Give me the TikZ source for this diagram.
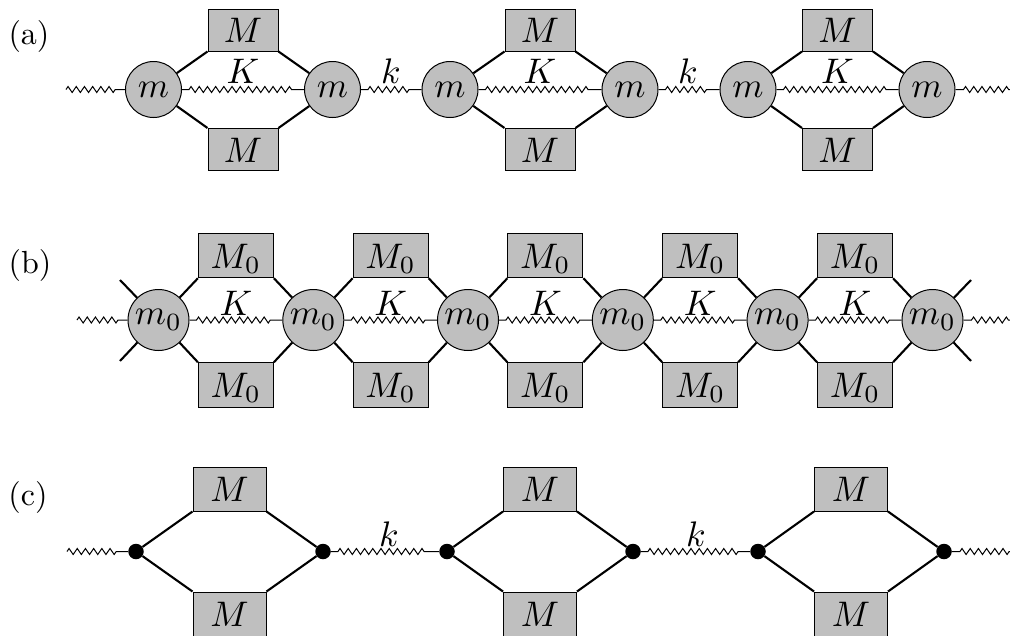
\documentclass[tikz,border=0pt]{standalone}
\usepackage{graphicx}
\usetikzlibrary{decorations.pathmorphing}
\newcommand{\tx}[1]{\scalebox{3.2}{#1}}
\newcommand{\mth}[1]{\scalebox{3.55}{$#1$}}
\tikzset{
  x=1pt,y=-1pt,
  txt/.style={inner sep=0pt},
  mass/.style={txt,circle,draw=black,fill=black!25,line width=1pt,minimum size=#1},
  blk/.style={txt,rectangle,draw=black,fill=black!25,line width=1pt,text height=25pt,text depth=0pt},
  ablk/.style={blk,minimum width=70pt,minimum height=42pt},
  bblk/.style={blk,minimum width=75pt,minimum height=44.5pt},
  cblk/.style={blk,minimum width=73pt,minimum height=44pt},
  joint/.style={circle,fill=black,inner sep=0pt,minimum size=15.5pt},
  rod/.style={line width=2.1pt},
  springline/.style={line width=1pt,decorate,decoration={zigzag,amplitude=3pt,segment length=8.2pt,#1}},
  spring/.style={springline={pre length=7pt,post length=11pt}},
  springin/.style={springline={post length=8pt}},
  springout/.style={springline={pre length=8pt}},
}
\begin{document}
\begin{tikzpicture}
\useasboundingbox (0,0) rectangle (1010,635);
\node[txt] (la) at (29,36) {\tx{(a)}};
\node[txt] (lb) at (30,265) {\tx{(b)}};
\node[txt] (lc) at (28,497) {\tx{(c)}};
% row a
\foreach \i/\xl/\xr in {1/153.5/332.5,2/450/630,3/748/927}{
  \node[mass=56pt] (aL\i) at (\xl,89.5) {\mth{m}};
  \node[mass=56pt] (aR\i) at (\xr,89.5) {\mth{m}};
  \pgfmathsetmacro\xc{(\xl+\xr)/2}
  \node[ablk] (aT\i) at (\xc,30) {\mth{M}};
  \node[ablk] (aB\i) at (\xc,149.5) {\mth{M}};
  \node[txt,anchor=base] (aK\i) at (\xc,83) {\mth{K}};
  \draw[rod] (aL\i) -- (aT\i.south west);
  \draw[rod] (aR\i) -- (aT\i.south east);
  \draw[rod] (aL\i) -- (aB\i.north west);
  \draw[rod] (aR\i) -- (aB\i.north east);
  \draw[spring] (aL\i) -- (aR\i);
}
\coordinate (a0) at (66,89.5);
\coordinate (a4) at (1012,89.5);
\draw[spring] (aR1) -- (aL2);
\draw[spring] (aR2) -- (aL3);
\draw[springin] (a0) -- (aL1);
\draw[springout] (aR3) -- (a4);
\node[txt,anchor=base] (ak1) at (391,83) {\mth{k}};
\node[txt,anchor=base] (ak2) at (688,83) {\mth{k}};
% row b
\foreach \i/\x in {1/158.5,2/313.3,3/468,4/622.8,5/777.6,6/932.5}{
  \node[mass=61pt] (bN\i) at (\x,320) {\mth{m_0}};
}
\foreach \i/\j in {1/2,2/3,3/4,4/5,5/6}{
  \path (bN\i) -- (bN\j) coordinate[midway] (bC\i);
  \node[bblk] (bT\i) at ([yshift=64.5pt]bC\i) {\mth{M_0}};
  \node[bblk] (bB\i) at ([yshift=-65pt]bC\i) {\mth{M_0}};
  \node[txt,anchor=base] (bK\i) at ([yshift=5pt]bC\i) {\mth{K}};
  \draw[rod] (bN\i) -- (bT\i.south west);
  \draw[rod] (bN\j) -- (bT\i.south east);
  \draw[rod] (bN\i) -- (bB\i.north west);
  \draw[rod] (bN\j) -- (bB\i.north east);
  \draw[spring] (bN\i) -- (bN\j);
}
\coordinate (bs1) at (120,280);
\coordinate (bs2) at (120,361);
\coordinate (bs3) at (971,280);
\coordinate (bs4) at (971,361);
\draw[rod] (bN1) -- (bs1);
\draw[rod] (bN1) -- (bs2);
\draw[rod] (bN6) -- (bs3);
\draw[rod] (bN6) -- (bs4);
\coordinate (b0) at (77,320);
\coordinate (b7) at (1012,320);
\draw[springin] (b0) -- (bN1);
\draw[springout] (bN6) -- (b7);
% row c
\foreach \i/\xl/\xr in {1/136/323,2/447/633,3/758/944}{
  \node[joint] (cL\i) at (\xl,551.5) {};
  \node[joint] (cR\i) at (\xr,551.5) {};
  \pgfmathsetmacro\xc{(\xl+\xr)/2}
  \node[cblk] (cT\i) at (\xc,489) {\mth{M}};
  \node[cblk] (cB\i) at (\xc,614) {\mth{M}};
  \draw[rod] (cL\i) -- (cT\i.south west);
  \draw[rod] (cR\i) -- (cT\i.south east);
  \draw[rod] (cL\i) -- (cB\i.north west);
  \draw[rod] (cR\i) -- (cB\i.north east);
}
\coordinate (c0) at (67,551.5);
\coordinate (c4) at (1012,551.5);
\draw[spring] (cR1) -- (cL2);
\draw[spring] (cR2) -- (cL3);
\draw[springin] (c0) -- (cL1);
\draw[springout] (cR3) -- (c4);
\node[txt,anchor=base] (ck1) at (389,546) {\mth{k}};
\node[txt,anchor=base] (ck2) at (696,546) {\mth{k}};
\end{tikzpicture}
\end{document}
